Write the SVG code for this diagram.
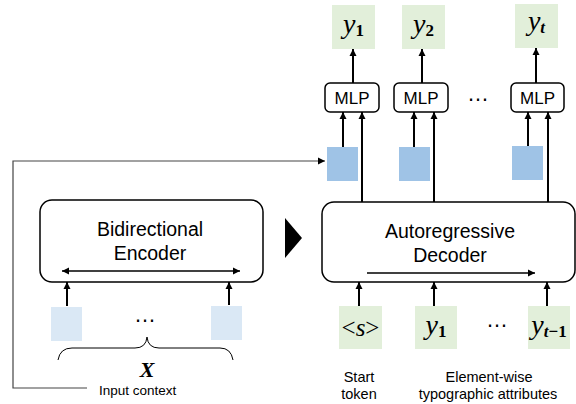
<svg xmlns="http://www.w3.org/2000/svg" width="576" height="404" viewBox="0 0 576 404">
<defs>
<marker id="ah" markerUnits="userSpaceOnUse" markerWidth="8" markerHeight="8" refX="7" refY="4" orient="auto">
<path d="M0,0.5 L7,4 L0,7.5 z" fill="#000"/>
</marker>
<marker id="ahs" markerUnits="userSpaceOnUse" markerWidth="8" markerHeight="8" refX="7" refY="4" orient="auto-start-reverse">
<path d="M0,0.5 L7,4 L0,7.5 z" fill="#000"/>
</marker>
<style>
.box{fill:#fff;stroke:#000;stroke-width:1.5}
.arr{stroke:#000;stroke-width:2;fill:none;marker-end:url(#ah)}
.green{fill:#e2efda}
.blue{fill:#9fc3e6}
.lblue{fill:#dae8f5}
.sans{font-family:"Liberation Sans",Arial,sans-serif;fill:#000}
.math{font-family:"Liberation Serif","DejaVu Serif",serif;fill:#000}
.dots{font-family:"Liberation Sans",Arial,sans-serif;font-size:22px;fill:#000}
</style>
</defs>

<g id="connectors">
<polyline points="87,388 13,388 13,161 325,161" fill="none" stroke="#444" stroke-width="1.2" marker-end="url(#ah)"/>
<line class="arr" x1="353" y1="83" x2="353" y2="49"/>
<line class="arr" x1="422" y1="83" x2="422" y2="49"/>
<line class="arr" x1="536" y1="83" x2="536" y2="48"/>
<line class="arr" x1="343" y1="147" x2="343" y2="112"/>
<line class="arr" x1="414" y1="147" x2="414" y2="112"/>
<line class="arr" x1="528" y1="146" x2="528" y2="112"/>
<line class="arr" x1="362" y1="202" x2="362" y2="112"/>
<line class="arr" x1="434" y1="202" x2="434" y2="112"/>
<line class="arr" x1="548" y1="202" x2="548" y2="112"/>
<line class="arr" x1="67" y1="306" x2="67" y2="282"/>
<line class="arr" x1="229" y1="305" x2="229" y2="282"/>
<line class="arr" x1="359" y1="306" x2="359" y2="282"/>
<line class="arr" x1="434" y1="306" x2="434" y2="282"/>
<line class="arr" x1="547" y1="306" x2="547" y2="282"/>
</g>

<g id="y1-out"><rect class="green" x="332" y="5" width="43" height="44"/>
<text class="math" x="353.5" y="33" text-anchor="middle" font-size="28" font-style="italic">y<tspan font-style="normal" font-weight="bold" font-size="17" dy="3">1</tspan></text></g>
<g id="y2-out"><rect class="green" x="402" y="5" width="43" height="44"/>
<text class="math" x="423.5" y="33" text-anchor="middle" font-size="28" font-style="italic">y<tspan font-style="normal" font-weight="bold" font-size="17" dy="3">2</tspan></text></g>
<g id="yt-out"><rect class="green" x="515" y="4" width="43" height="44"/>
<text class="math" x="536.5" y="30" text-anchor="middle" font-size="28" font-style="italic">y<tspan font-weight="bold" font-size="17" dy="3">t</tspan></text></g>

<g id="mlp1"><rect class="box" x="325" y="83" width="54" height="29" rx="5"/>
<text class="sans" x="352" y="103.5" text-anchor="middle" font-size="17">MLP</text></g>
<g id="mlp2"><rect class="box" x="394" y="83" width="54" height="29" rx="5"/>
<text class="sans" x="421" y="103.5" text-anchor="middle" font-size="17">MLP</text></g>
<g id="mlp3"><rect class="box" x="511" y="83" width="53" height="29" rx="5"/>
<text class="sans" x="537.5" y="103.5" text-anchor="middle" font-size="17">MLP</text></g>
<text class="dots" x="478" y="101" text-anchor="middle">…</text>

<g id="h1"><rect class="blue" x="327" y="147" width="31" height="34"/></g>
<g id="h2"><rect class="blue" x="399" y="147" width="31" height="34"/></g>
<g id="h3"><rect class="blue" x="512" y="146" width="31" height="34"/></g>

<g id="encoder"><rect class="box" x="40" y="200" width="223" height="82" rx="12"/>
<text class="sans" x="150" y="236" text-anchor="middle" font-size="19.5">Bidirectional</text>
<text class="sans" x="150" y="260" text-anchor="middle" font-size="19.5">Encoder</text>
<line x1="62" y1="271" x2="240" y2="271" stroke="#000" stroke-width="1.5" marker-start="url(#ahs)" marker-end="url(#ahs)"/></g>

<g id="x1"><rect class="lblue" x="51" y="307" width="31" height="34"/></g>
<g id="xn"><rect class="lblue" x="211" y="306" width="31" height="34"/></g>
<text class="dots" x="145" y="322" text-anchor="middle">…</text>

<g id="input-context">
<path d="M58,360 Q60,348 72,348 L135,348 Q146,348 147,337 Q148,348 159,348 L220,348 Q231,348 233,360" fill="none" stroke="#000" stroke-width="1"/>
<text class="math" x="147" y="377" text-anchor="middle" font-size="22" font-style="italic" font-weight="bold">X</text>
<text class="sans" x="99" y="395" font-size="13.5">Input context</text>
</g>

<polygon points="285,218 302,238 285,258" fill="#000"/>

<g id="decoder"><rect class="box" x="322" y="202" width="253" height="80" rx="12"/>
<text class="sans" x="450" y="238" text-anchor="middle" font-size="19.5">Autoregressive</text>
<text class="sans" x="450" y="262" text-anchor="middle" font-size="19.5">Decoder</text>
<line x1="367" y1="273" x2="535" y2="273" stroke="#000" stroke-width="1.5" marker-end="url(#ah)"/></g>

<g id="start-in"><rect class="green" x="339" y="306" width="43" height="43"/>
<text class="math" x="360.5" y="336" text-anchor="middle" font-size="25">&lt;<tspan font-style="italic">s</tspan>&gt;</text></g>
<g id="y1-in"><rect class="green" x="415" y="306" width="42" height="43"/>
<text class="math" x="436" y="334" text-anchor="middle" font-size="28" font-style="italic">y<tspan font-style="normal" font-weight="bold" font-size="17" dy="3">1</tspan></text></g>
<g id="yt1-in"><rect class="green" x="528" y="306" width="42" height="43"/>
<text class="math" x="549" y="334" text-anchor="middle" font-size="28" font-style="italic">y<tspan font-weight="bold" font-size="17" dy="3">t<tspan font-style="normal">−1</tspan></tspan></text></g>
<text class="dots" x="497" y="327" text-anchor="middle">…</text>

<text class="sans" x="359" y="382" text-anchor="middle" font-size="14.5">Start</text>
<text class="sans" x="359" y="399" text-anchor="middle" font-size="14.5">token</text>
<text class="sans" x="489" y="382" text-anchor="middle" font-size="14.5">Element-wise</text>
<text class="sans" x="488" y="399" text-anchor="middle" font-size="14.5">typographic attributes</text>
</svg>
